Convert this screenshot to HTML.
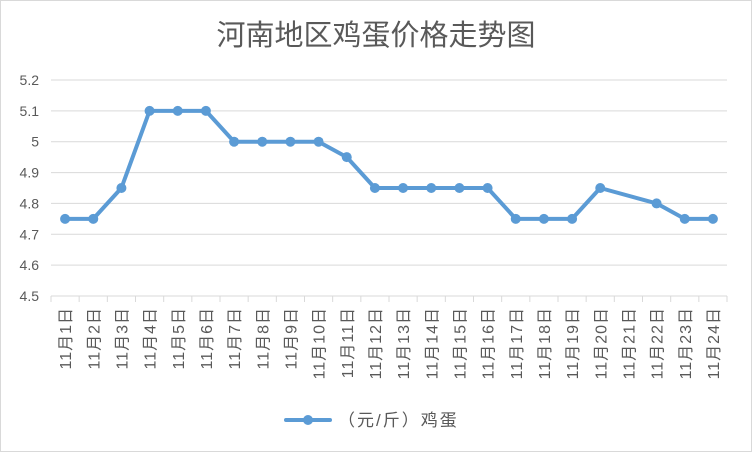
<!DOCTYPE html>
<html><head><meta charset="utf-8"><style>
body{margin:0;background:#fff;}
svg{display:block;font-family:"Liberation Sans","Noto Sans CJK SC",sans-serif;}
</style></head><body>
<svg id="chart" width="752" height="452" xmlns="http://www.w3.org/2000/svg">
<rect x="0.5" y="0.5" width="751" height="451" fill="#fff" stroke="#d9d9d9"/>
<text x="376" y="45" text-anchor="middle" font-size="29" fill="#595959">河南地区鸡蛋价格走势图</text>
<g id="grid"></g><g id="axis"></g><g id="series"></g>
<g>
<line x1="286" y1="420" x2="330" y2="420" stroke="#5b9bd5" stroke-width="4" stroke-linecap="round"/>
<circle cx="308" cy="420" r="5" fill="#5b9bd5"/>
<text x="338" y="426" font-size="17" letter-spacing="2" fill="#595959">（元/斤）鸡蛋</text>
</g>
</svg>
<script>
const categories=["11月1日","11月2日","11月3日","11月4日","11月5日","11月6日","11月7日","11月8日","11月9日","11月10日","11月11日","11月12日","11月13日","11月14日","11月15日","11月16日","11月17日","11月18日","11月19日","11月20日","11月21日","11月22日","11月23日","11月24日"];
const prices=[4.75,4.75,4.85,5.1,5.1,5.1,5,5,5,5,4.95,4.85,4.85,4.85,4.85,4.85,4.75,4.75,4.75,4.85,null,4.8,4.75,4.75];
const yTicks=[4.5,4.6,4.7,4.8,4.9,5,5.1,5.2];
const NS="http://www.w3.org/2000/svg";
const L=51,R=727,T=80,B=296,yMin=4.5,yMax=5.2;
const bw=(R-L)/categories.length;
const x=i=>L+bw*(i+0.5);
const y=v=>B-(v-yMin)/(yMax-yMin)*(B-T);
function mk(tag,attrs,parent){const e=document.createElementNS(NS,tag);for(const k in attrs)e.setAttribute(k,attrs[k]);parent.appendChild(e);return e;}
const grid=document.getElementById('grid'),axis=document.getElementById('axis'),series=document.getElementById('series');
yTicks.forEach(t=>{
  const g=mk('line',{x1:L,x2:R,y1:y(t),y2:y(t),stroke:'#d9d9d9','stroke-width':1},grid);
  
  
  const tx=mk('text',{x:L-12,y:y(t)+5,'text-anchor':'end','font-size':14,fill:'#595959'},axis);
  tx.textContent=String(t);
  
  
});
const ax=mk('line',{x1:L,x2:R,y1:B,y2:B,stroke:'#d9d9d9','stroke-width':1},axis);


for(let i=0;i<=categories.length;i++){
  const tk=mk('line',{x1:L+bw*i,x2:L+bw*i,y1:B,y2:B+6,stroke:'#d9d9d9'},axis);
  
  
}
categories.forEach((c,i)=>{
  const tx=mk('text',{x:x(i)+6,y:307,'text-anchor':'end','font-size':16,'letter-spacing':1,fill:'#595959',transform:`rotate(-90 ${x(i)+6} 307)`},axis);
  tx.textContent=c;
  
  
});
const pts=[];prices.forEach((v,i)=>{if(v!==null)pts.push([x(i),y(v)]);});
const pl=mk('polyline',{points:pts.map(p=>p.join(',')).join(' '),fill:'none',stroke:'#5b9bd5','stroke-width':4,'stroke-linejoin':'round','stroke-linecap':'round'},series);


pts.forEach(p=>{
  const c=mk('circle',{cx:p[0],cy:p[1],r:5,fill:'#5b9bd5'},series);
  
  
});
</script>
</body></html>
